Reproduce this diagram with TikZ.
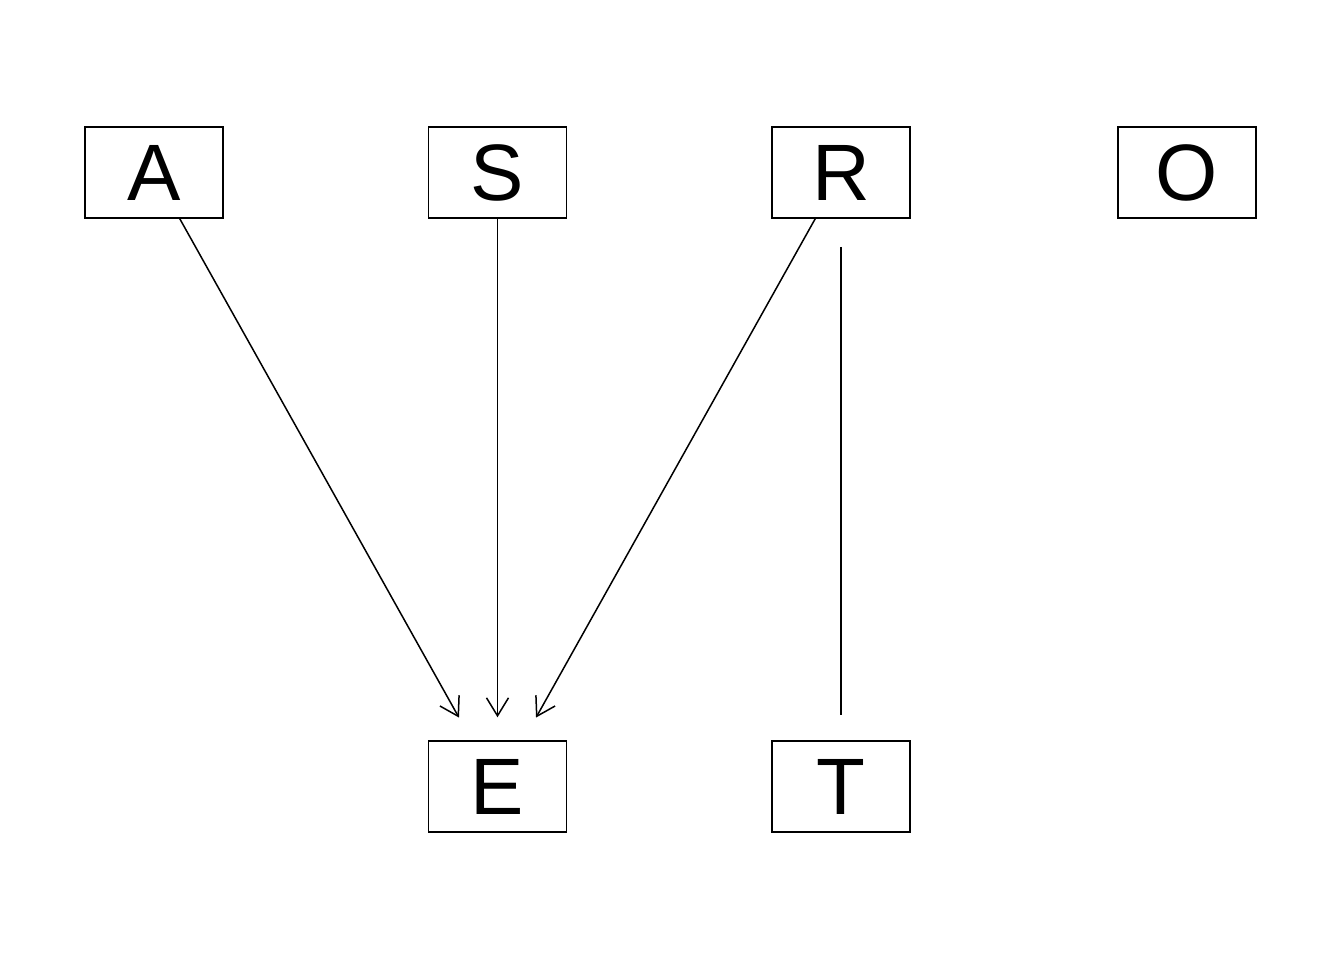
\documentclass[tikz,border=0pt]{standalone}
\usepackage{fontspec}
\setmainfont{Liberation Sans}
\usetikzlibrary{arrows.meta}
\begin{document}
\begin{tikzpicture}[x=0.5pt,y=-0.5pt,
  var/.style={draw, line width=0.75pt, minimum width=69pt, minimum height=45.5pt,
    inner sep=0pt, font=\fontsize{40}{40}\selectfont},
  edge/.style={line width=0.75pt},
  directed/.style={edge, -{Straight Barb[length=9pt,width=11pt,line width=0.75pt]}}]
\useasboundingbox (0,0) rectangle (1344,960);
% top row of variables
\node[var] (A) at (154,172.5) {A};
\node[var] (S) at (497.5,172.5) {S};
\node[var] (R) at (841,172.5) {R};
\node[var] (O) at (1187,172.5) {O};
% bottom row
\node[var] (E) at (497.5,786.5) {E};
\node[var] (T) at (841,786.5) {T};
% connectors
\draw[directed, shorten >=13pt] (A) -- (E);
\draw[directed, shorten >=11.5pt] (S) -- (E);
\draw[directed, shorten >=13pt] (R) -- (E);
\draw[edge, shorten <=14pt, shorten >=12.5pt] (R) -- (T);
\end{tikzpicture}
\end{document}
